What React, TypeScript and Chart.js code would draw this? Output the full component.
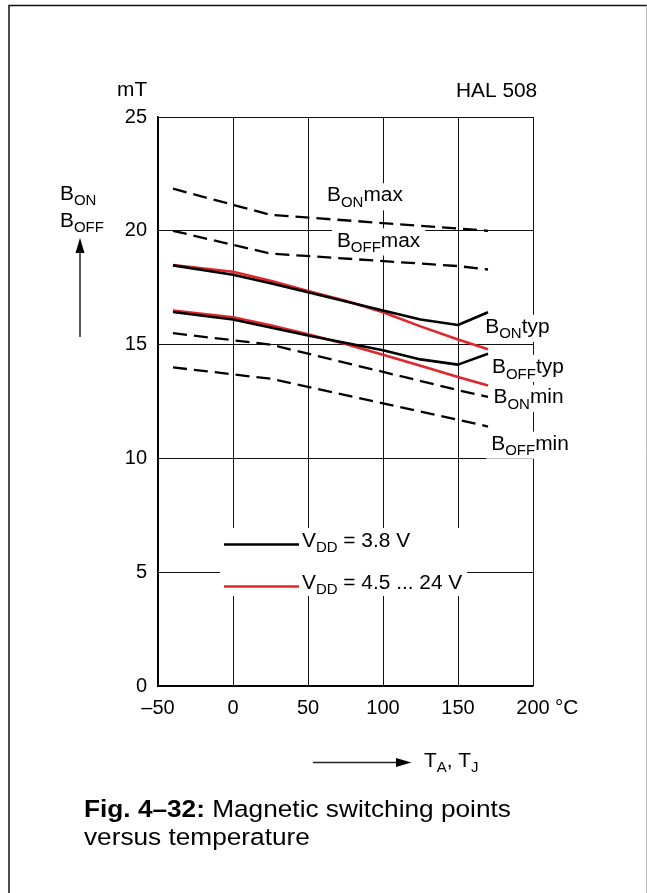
import React, { useEffect, useRef } from 'react';
import { Chart, registerables } from 'chart.js';

Chart.register(...registerables);

// ---------- data ----------
const xTicks = [-50, 0, 50, 100, 150, 200];
const xTickLabels = ['–50', '0', '50', '100', '150', '200'];
const yTicks = [0, 5, 10, 15, 20, 25];
const yTickLabels = ['0', '5', '10', '15', '20', '25'];

const tempLimits = [-40, 25, 150, 170];
const bOnMax = [21.85, 20.7, 20.1, 20.0];
const bOffMax = [20.0, 19.0, 18.45, 18.3];
const bOnMin = [15.5, 15.0, 13.0, 12.7];
const bOffMin = [14.0, 13.5, 11.7, 11.4];

const tempTyp38 = [-40, 0, 25, 50, 100, 125, 150, 170];
const bOnTyp38 = [18.48, 18.07, 17.7, 17.3, 16.5, 16.1, 15.86, 16.42];
const bOffTyp38 = [16.43, 16.1, 15.75, 15.4, 14.75, 14.35, 14.12, 14.6];

const tempTyp45 = [-40, 0, 25, 50, 75, 100, 125, 150, 170];
const bOnTyp45 = [18.5, 18.2, 17.8, 17.35, 16.93, 16.42, 15.8, 15.22, 14.8];
const bOffTyp45 = [16.5, 16.2, 15.85, 15.45, 15.03, 14.55, 14.07, 13.58, 13.2];

const legendLabels = ['3.8 V', '4.5 ... 24 V'];

// ---------- styles ----------
const FONT = '"Liberation Sans", Arial, Helvetica, sans-serif';
const SX = 1.07;
const BLACK = '#000000';
const RED = '#e3242b';
const DASH = [14, 7];

type Part = { t: string; sub?: boolean; bold?: boolean };

function fontFor(p: Part, size: number) {
  const s = p.sub ? Math.round(size * 0.74) : size;
  return `${p.bold ? 'bold ' : ''}${s}px ${FONT}`;
}

function richWidth(ctx: CanvasRenderingContext2D, parts: Part[], size: number) {
  let w = 0;
  for (const p of parts) {
    ctx.font = fontFor(p, size);
    w += ctx.measureText(p.t).width;
  }
  return w * SX;
}

function drawRich(ctx: CanvasRenderingContext2D, x: number, y: number, parts: Part[], size: number, bg = false) {
  const w = richWidth(ctx, parts, size);
  if (bg) {
    ctx.save();
    ctx.fillStyle = '#ffffff';
    ctx.fillRect(x - 5, y - size * 0.78 - 3, w + 10, size * 0.78 + 12);
    ctx.restore();
  }
  ctx.save();
  ctx.translate(x, y);
  ctx.scale(SX, 1);
  ctx.fillStyle = '#000';
  ctx.textBaseline = 'alphabetic';
  ctx.textAlign = 'left';
  let cx = 0;
  for (const p of parts) {
    ctx.font = fontFor(p, size);
    ctx.fillText(p.t, cx, p.sub ? size * 0.28 : 0);
    cx += ctx.measureText(p.t).width;
  }
  ctx.restore();
}

const curveLabels: { parts: Part[]; x: number; y: number }[] = [
  { parts: [{ t: 'B' }, { t: 'ON', sub: true }, { t: 'max' }], x: 62.7, y: 21.29 },
  { parts: [{ t: 'B' }, { t: 'OFF', sub: true }, { t: 'max' }], x: 69.3, y: 19.31 },
  { parts: [{ t: 'B' }, { t: 'ON', sub: true }, { t: 'typ' }], x: 168.2, y: 15.51 },
  { parts: [{ t: 'B' }, { t: 'OFF', sub: true }, { t: 'typ' }], x: 172.7, y: 13.75 },
  { parts: [{ t: 'B' }, { t: 'ON', sub: true }, { t: 'min' }], x: 173.7, y: 12.43 },
  { parts: [{ t: 'B' }, { t: 'OFF', sub: true }, { t: 'min' }], x: 172.2, y: 10.38 },
];

const pts = (xs: number[], ys: number[]) => xs.map((x, i) => ({ x, y: ys[i] }));

const annotPlugin = {
  id: 'annot',
  beforeDatasetsDraw(chart: any) {
    const ctx: CanvasRenderingContext2D = chart.ctx;
    const xs = chart.scales.x;
    const ys = chart.scales.y;
    const LS = 19.5;

    // outer frame
    ctx.save();
    ctx.strokeStyle = '#111';
    ctx.lineWidth = 1.5;
    ctx.beginPath();
    ctx.moveTo(9, 893);
    ctx.lineTo(9, 5.5);
    ctx.lineTo(647, 5.5);
    ctx.stroke();
    ctx.strokeStyle = '#bbbbbb';
    ctx.lineWidth = 1;
    ctx.beginPath();
    ctx.moveTo(646.5, 5.5);
    ctx.lineTo(646.5, 893);
    ctx.stroke();
    ctx.restore();

    // curve labels with white background
    for (const l of curveLabels) {
      drawRich(ctx, xs.getPixelForValue(l.x), ys.getPixelForValue(l.y), l.parts, LS, true);
    }

    // legend box
    ctx.save();
    ctx.fillStyle = '#fff';
    ctx.fillRect(220, 528, 247, 68);
    const ds = chart.data.datasets;
    const legendDs = [ds[4], ds[6]];
    const ly = [544.5, 586.5];
    legendDs.forEach((d: any, i: number) => {
      ctx.strokeStyle = d.borderColor;
      ctx.lineWidth = d.borderWidth;
      ctx.beginPath();
      ctx.moveTo(224, ly[i]);
      ctx.lineTo(299, ly[i]);
      ctx.stroke();
      drawRich(ctx, 302, ly[i] + 2.5, [{ t: 'V' }, { t: 'DD', sub: true }, { t: ' = ' + legendLabels[i] }], LS);
    });
    ctx.restore();

    // axis units & titles
    drawRich(ctx, 117, 96, [{ t: 'mT' }], LS);
    drawRich(ctx, 456, 97, [{ t: 'HAL 508' }], LS);
    drawRich(ctx, 555, 714, [{ t: '°C' }], LS);
    drawRich(ctx, 60, 200, [{ t: 'B' }, { t: 'ON', sub: true }], LS);
    drawRich(ctx, 60, 227, [{ t: 'B' }, { t: 'OFF', sub: true }], LS);
    drawRich(ctx, 424, 767, [{ t: 'T' }, { t: 'A', sub: true }, { t: ', T' }, { t: 'J', sub: true }], LS);

    // arrows
    ctx.save();
    ctx.strokeStyle = '#222';
    ctx.fillStyle = '#000';
    ctx.lineWidth = 1.5;
    ctx.beginPath();
    ctx.moveTo(80, 337);
    ctx.lineTo(80, 250);
    ctx.stroke();
    ctx.beginPath();
    ctx.moveTo(80, 238);
    ctx.lineTo(75.5, 253);
    ctx.lineTo(84.5, 253);
    ctx.closePath();
    ctx.fill();
    ctx.beginPath();
    ctx.moveTo(313, 762.5);
    ctx.lineTo(398, 762.5);
    ctx.stroke();
    ctx.beginPath();
    ctx.moveTo(411.5, 762.5);
    ctx.lineTo(396, 758);
    ctx.lineTo(396, 767);
    ctx.closePath();
    ctx.fill();
    ctx.restore();

    // caption
    const CS = 24.5;
    drawRich(ctx, 84, 817, [{ t: 'Fig. 4–32:', bold: true }, { t: ' Magnetic switching points' }], CS);
    drawRich(ctx, 84, 845, [{ t: 'versus temperature' }], CS);
  },
};

export default function App() {
  const ref = useRef<HTMLCanvasElement | null>(null);

  useEffect(() => {
    if (!ref.current) return;
    const dashed = (label: string, xs: number[], ys: number[]) => ({
      label,
      data: pts(xs, ys),
      borderColor: BLACK,
      borderWidth: 2.3,
      borderDash: DASH,
      pointRadius: 0,
      tension: 0,
      fill: false,
    });
    const solid = (label: string, xs: number[], ys: number[], color: string) => ({
      label,
      data: pts(xs, ys),
      borderColor: color,
      borderWidth: 2.6,
      pointRadius: 0,
      tension: 0,
      fill: false,
      borderJoinStyle: 'round' as const,
    });
    const chart = new Chart(ref.current, {
      type: 'line',
      data: {
        datasets: [
          dashed('B_ON max', tempLimits, bOnMax),
          dashed('B_OFF max', tempLimits, bOffMax),
          dashed('B_ON min', tempLimits, bOnMin),
          dashed('B_OFF min', tempLimits, bOffMin),
          solid('B_ON typ 3.8 V', tempTyp38, bOnTyp38, BLACK),
          solid('B_OFF typ 3.8 V', tempTyp38, bOffTyp38, BLACK),
          solid('B_ON typ 4.5..24 V', tempTyp45, bOnTyp45, RED),
          solid('B_OFF typ 4.5..24 V', tempTyp45, bOffTyp45, RED),
        ] as any,
      },
      options: {
        responsive: false,
        animation: false,
        devicePixelRatio: 1,
        layout: { padding: { left: 0, top: 117, right: 114, bottom: 0 } },
        plugins: { legend: { display: false }, tooltip: { enabled: false } },
        scales: {
          x: {
            type: 'linear',
            min: xTicks[0],
            max: xTicks[xTicks.length - 1],
            afterBuildTicks: (s: any) => {
              s.ticks = xTicks.map((v) => ({ value: v }));
            },
            afterFit: (s: any) => {
              s.height = 207;
            },
            ticks: {
              callback: (_v: any, i: number) => xTickLabels[i],
              font: { family: FONT, size: 20 },
              color: '#000',
              padding: 10,
              maxRotation: 0,
              autoSkip: false,
            },
            grid: { color: '#111', lineWidth: 1, drawTicks: false },
            border: { color: '#000', width: 1.5 },
          },
          y: {
            type: 'linear',
            min: yTicks[0],
            max: yTicks[yTicks.length - 1],
            afterBuildTicks: (s: any) => {
              s.ticks = yTicks.map((v) => ({ value: v }));
            },
            afterFit: (s: any) => {
              s.width = 158;
            },
            ticks: {
              callback: (_v: any, i: number) => yTickLabels[i],
              font: { family: FONT, size: 20 },
              color: '#000',
              padding: 11,
              autoSkip: false,
            },
            grid: { color: '#111', lineWidth: 1, drawTicks: false },
            border: { color: '#000', width: 1.5 },
          },
        },
      } as any,
      plugins: [annotPlugin],
    });
    return () => chart.destroy();
  }, []);

  return (
    <div style={{ position: 'absolute', left: 0, top: 0, width: 647, height: 893, background: '#fff' }}>
      <canvas ref={ref} width={647} height={893} style={{ display: 'block' }} />
    </div>
  );
}
